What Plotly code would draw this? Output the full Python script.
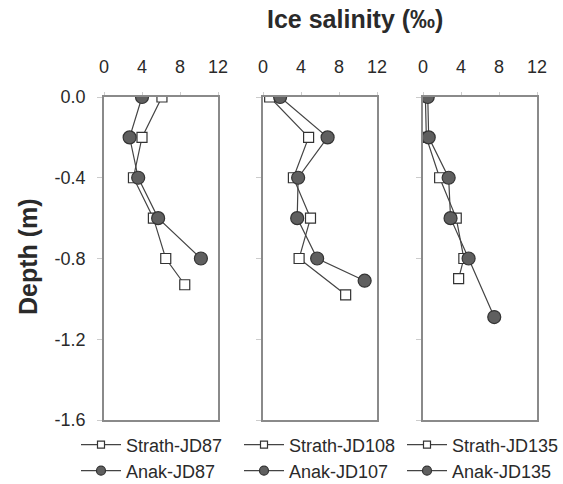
import plotly.graph_objects as go

# ---- data (salinity ‰ vs depth m) ----
strath87_depth = [0.0, -0.2, -0.4, -0.6, -0.8, -0.93]
strath87_sal = [6.1, 4.0, 3.1, 5.2, 6.5, 8.5]
anak87_depth = [0.0, -0.2, -0.4, -0.6, -0.8]
anak87_sal = [4.0, 2.7, 3.6, 5.7, 10.2]

strath108_depth = [0.0, -0.2, -0.4, -0.6, -0.8, -0.98]
strath108_sal = [0.7, 4.8, 3.2, 5.0, 3.8, 8.7]
anak107_depth = [0.0, -0.2, -0.4, -0.6, -0.8, -0.91]
anak107_sal = [1.8, 6.8, 3.7, 3.6, 5.7, 10.7]

strath135_depth = [0.0, -0.2, -0.4, -0.6, -0.8, -0.9]
strath135_sal = [0.25, 0.35, 1.75, 3.5, 4.3, 3.75]
anak135_depth = [0.0, -0.2, -0.4, -0.6, -0.8, -1.09]
anak135_sal = [0.5, 0.6, 2.7, 2.9, 4.8, 7.5]

x_ticks = [0, 4, 8, 12]
y_tickvals = [0.0, -0.4, -0.8, -1.2, -1.6]
y_ticktext = ["0.0", "-0.4", "-0.8", "-1.2", "-1.6"]

W, H = 563, 484
FONT = "Liberation Sans, Arial, sans-serif"
TXT = "#2a2a2a"
LINE = "#444444"
BORDER = "#8a8a8a"

sq = dict(symbol="square", size=10, color="white", line=dict(color="#333", width=1.2))
ci = dict(symbol="circle", size=13, color="#5f5f5f", line=dict(color="#333", width=1.2))
sq_leg = dict(symbol="square", size=7, color="white", line=dict(color="#333", width=1.2))
ci_leg = dict(symbol="circle", size=9, color="#5f5f5f", line=dict(color="#333", width=1.2))

fig = go.Figure()
series = [
    ("Strath-JD87", strath87_sal, strath87_depth, "x", "y", sq, sq_leg, "legend"),
    ("Strath-JD108", strath108_sal, strath108_depth, "x2", "y2", sq, sq_leg, "legend"),
    ("Strath-JD135", strath135_sal, strath135_depth, "x3", "y3", sq, sq_leg, "legend"),
    ("Anak-JD87", anak87_sal, anak87_depth, "x", "y", ci, ci_leg, "legend2"),
    ("Anak-JD107", anak107_sal, anak107_depth, "x2", "y2", ci, ci_leg, "legend2"),
    ("Anak-JD135", anak135_sal, anak135_depth, "x3", "y3", ci, ci_leg, "legend2"),
]
for name, xs, ys, xa, ya, mk, mkl, lg in series:
    fig.add_trace(go.Scatter(x=xs, y=ys, name=name, mode="lines+markers",
                             xaxis=xa, yaxis=ya, marker=mk, showlegend=False,
                             line=dict(color=LINE, width=1.2)))
    # legend-only entry with smaller symbol
    fig.add_trace(go.Scatter(x=[None], y=[None], name=name, mode="lines+markers",
                             xaxis=xa, yaxis=ya, marker=mkl, showlegend=True,
                             line=dict(color=LINE, width=1.2), legend=lg,
                             hoverinfo="skip"))

def px_x(p):
    return p / W

def px_y(p):
    return (H - p) / H

panels = [(104, 218), (263, 377), (423, 537)]
ax_common = dict(range=[0, 12], tickvals=x_ticks, side="top", showgrid=False,
                 zeroline=False, showline=True, linecolor=BORDER, linewidth=1.5,
                 mirror=True, ticks="outside", ticklen=3, tickcolor="#cccccc",
                 ticklabelstandoff=12, automargin=False,
                 tickfont=dict(family=FONT, size=18, color=TXT))
layout_axes = {}
for i, (a, b) in enumerate(panels):
    key = "xaxis" if i == 0 else f"xaxis{i+1}"
    d = dict(ax_common)
    d["domain"] = [px_x(a), px_x(b)]
    d["anchor"] = "y" if i == 0 else f"y{i+1}"
    layout_axes[key] = d

yd = [px_y(420), px_y(97)]
layout_axes["yaxis"] = dict(domain=yd, range=[-1.6, 0], tickvals=y_tickvals,
                            ticktext=y_ticktext, showgrid=False, zeroline=False,
                            showline=True, linecolor=BORDER, linewidth=1.5,
                            mirror=True, ticks="outside", ticklen=5,
                            tickcolor="#cccccc", ticklabelstandoff=8,
                            automargin=False,
                            tickfont=dict(family=FONT, size=18, color=TXT))
for i in (2, 3):
    layout_axes[f"yaxis{i}"] = dict(domain=yd, range=[-1.6, 0], tickvals=y_tickvals,
                                    showticklabels=False, showgrid=False, zeroline=False,
                                    showline=True, linecolor=BORDER, linewidth=1.5,
                                    mirror=True, ticks="outside", ticklen=5,
                                    tickcolor="#cccccc", automargin=False,
                                    anchor=f"x{i}", matches="y")

leg_common = dict(orientation="h", xanchor="left", yanchor="middle",
                  font=dict(family=FONT, size=18, color=TXT),
                  entrywidth=108, entrywidthmode="pixels", itemwidth=40,
                  bgcolor="rgba(0,0,0,0)", itemclick=False, itemdoubleclick=False,
                  tracegroupgap=0)

fig.update_layout(
    width=W, height=H, template="none",
    margin=dict(l=0, r=0, t=0, b=0, autoexpand=False),
    paper_bgcolor="white", plot_bgcolor="white",
    showlegend=True,
    legend=dict(leg_common, x=px_x(76), y=px_y(445)),
    legend2=dict(leg_common, x=px_x(76), y=px_y(471)),
    annotations=[
        dict(text="<b>Ice salinity (‰)</b>", x=px_x(355), y=px_y(19),
             xref="paper", yref="paper", showarrow=False,
             xanchor="center", yanchor="middle",
             font=dict(family=FONT, size=25, color=TXT)),
        dict(text="<b>Depth (m)</b>", x=px_x(28), y=px_y(257),
             xref="paper", yref="paper", showarrow=False, textangle=-90,
             xanchor="center", yanchor="middle",
             font=dict(family=FONT, size=25, color=TXT)),
    ],
    **layout_axes,
)

fig.write_html("out.html")
